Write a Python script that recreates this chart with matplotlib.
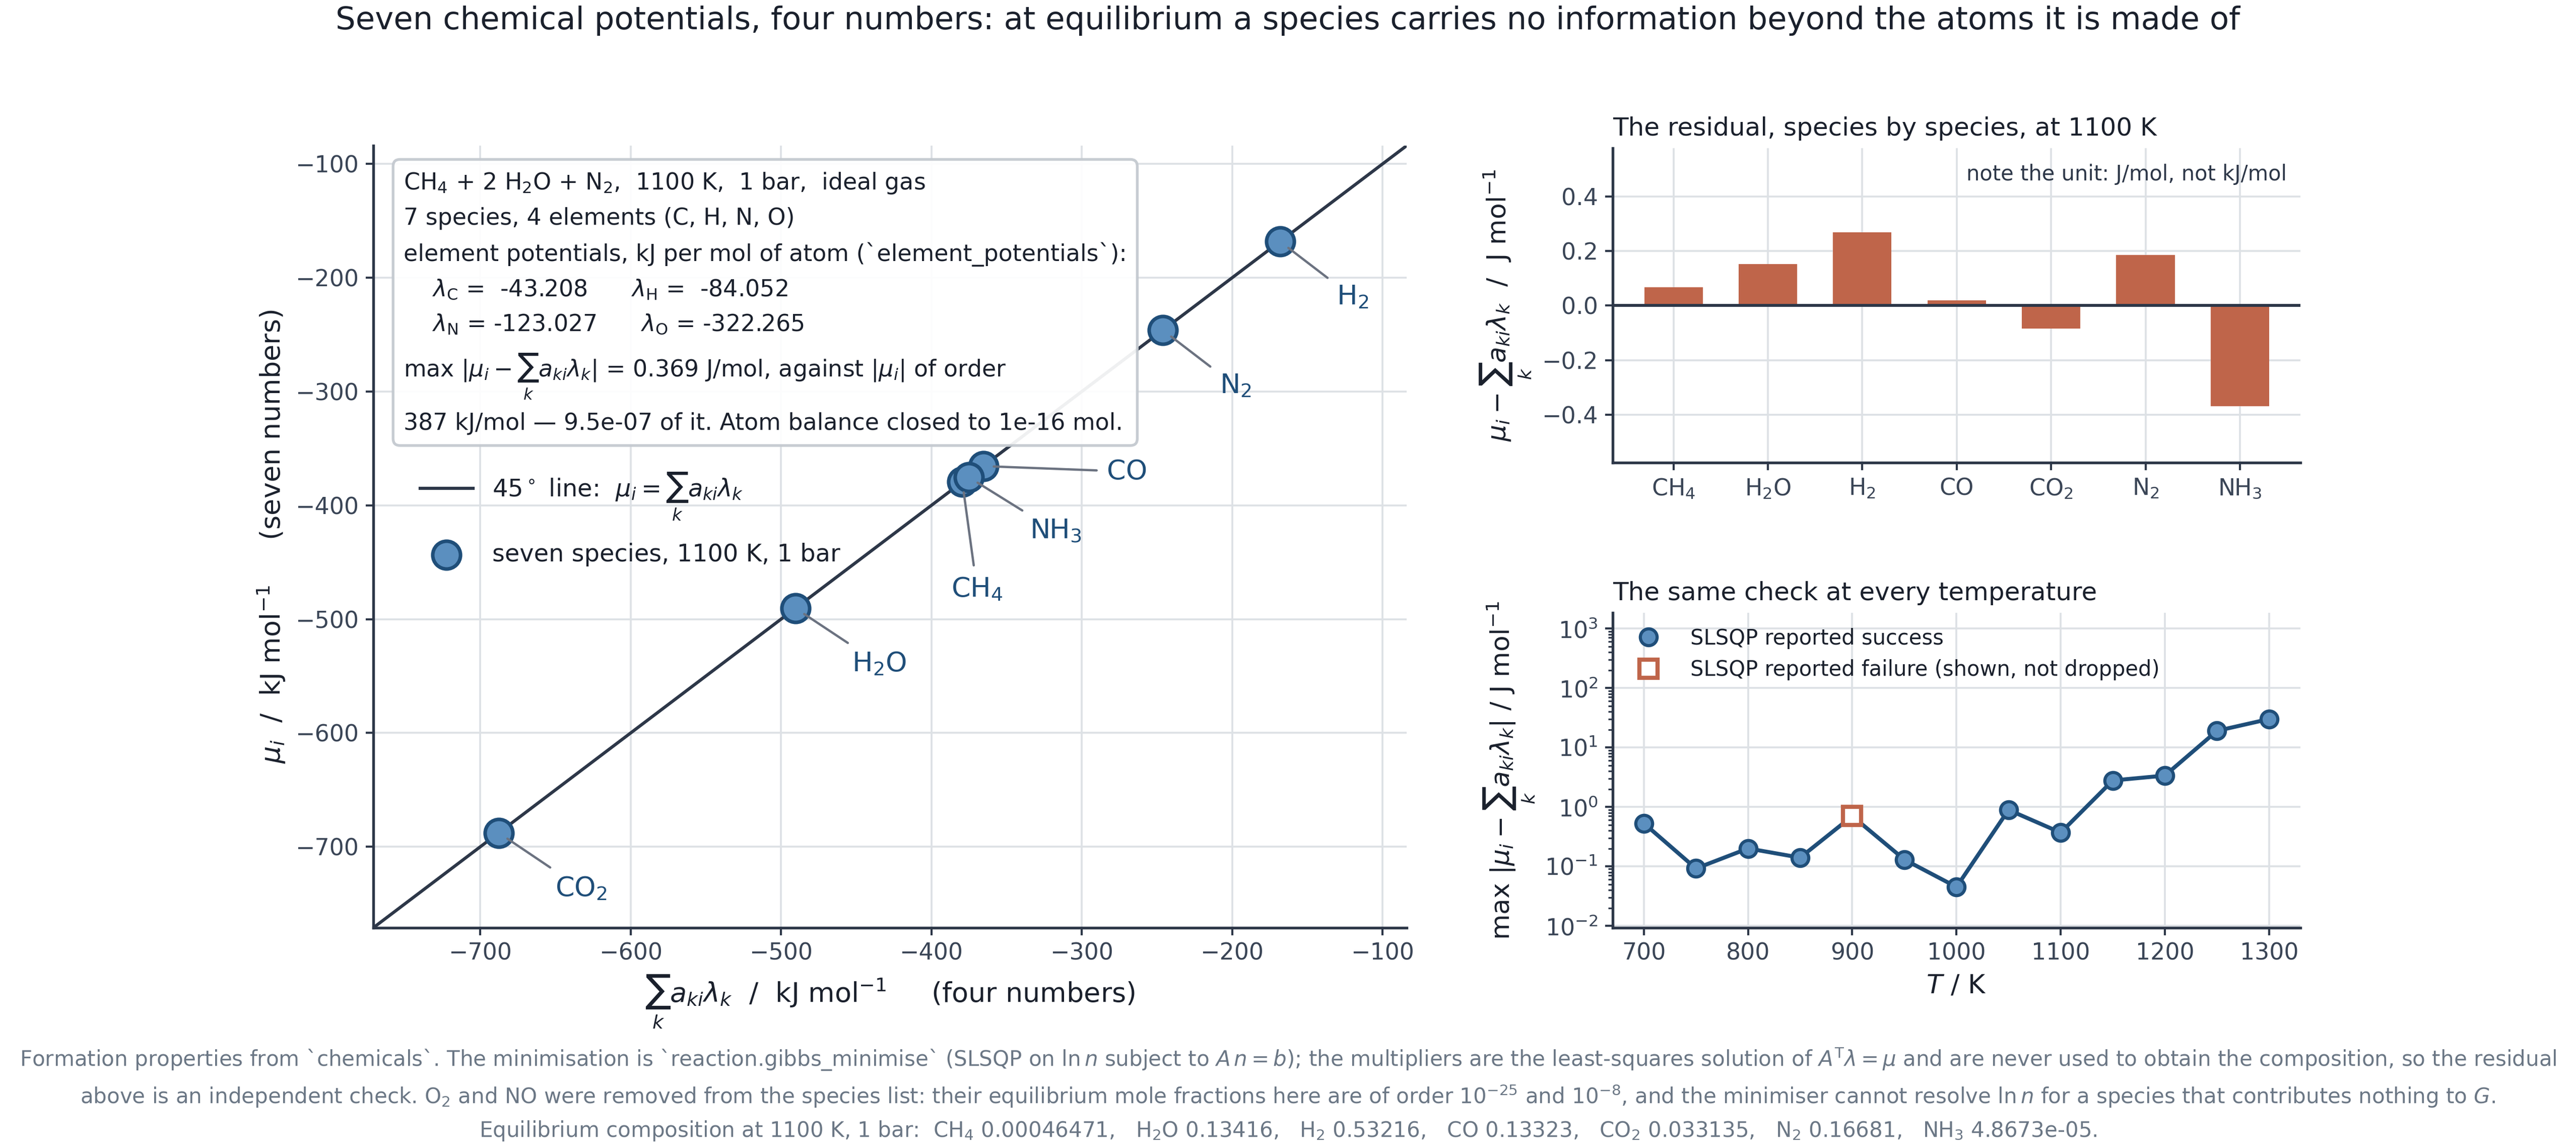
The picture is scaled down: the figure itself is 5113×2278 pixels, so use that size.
import numpy as np
import matplotlib
matplotlib.use("Agg")
import matplotlib.pyplot as plt

# ---------------- data ----------------
species = ["CH4", "H2O", "H2", "CO", "CO2", "N2", "NH3"]
species_tex = ["CH$_4$", "H$_2$O", "H$_2$", "CO", "CO$_2$", "N$_2$", "NH$_3$"]
elements = ["C", "H", "N", "O"]
element_potentials = [-43.208, -84.052, -123.027, -322.265]   # kJ/mol of atom
atom_C = [1, 0, 0, 1, 1, 0, 0]
atom_H = [4, 2, 2, 0, 0, 0, 3]
atom_N = [0, 0, 0, 0, 0, 2, 1]
atom_O = [0, 1, 0, 1, 2, 0, 0]
residual_J = [0.068, 0.153, 0.268, 0.019, -0.084, 0.186, -0.369]  # J/mol

temperatures = [700, 750, 800, 850, 900, 950, 1000, 1050, 1100, 1150, 1200, 1250, 1300]
max_residual = [0.53, 0.092, 0.20, 0.14, 0.70, 0.13, 0.045, 0.89, 0.369, 2.78, 3.36, 19.0, 30.0]
slsqp_success = [True, True, True, True, False, True, True, True, True, True, True, True, True]

# ---------------- derived ----------------
A = np.array([atom_C, atom_H, atom_N, atom_O], dtype=float)
lam = np.array(element_potentials)
sum_al = A.T @ lam
mu = sum_al + np.array(residual_J) / 1000.0

# ---------------- style ----------------
DARK = "#2d3748"
TXT = "#1a202c"
TICK = "#3a4556"
GRID = "#dde1e5"
BLUE_F = "#5b8fbf"
BLUE_E = "#1f4e79"
RUST = "#bf654a"
GRAYLINE = "#6b7280"
FOOT = "#6b7785"

plt.rcParams.update({
    "font.family": ["DejaVu Sans"],
    "axes.edgecolor": DARK,
    "axes.linewidth": 1.3,
    "xtick.color": DARK,
    "ytick.color": DARK,
    "xtick.labelcolor": TICK,
    "ytick.labelcolor": TICK,
    "xtick.labelsize": 11,
    "ytick.labelsize": 11,
    "xtick.major.size": 3.5,
    "ytick.major.size": 3.5,
    "xtick.major.width": 1.0,
    "ytick.major.width": 1.0,
    "axes.labelcolor": TXT,
})

fig = plt.figure(figsize=(5113 / 300, 2278 / 300), dpi=300)

ax1 = fig.add_axes([0.145, 0.192, 0.401, 0.681])
ax2 = fig.add_axes([0.626, 0.597, 0.267, 0.274])
ax3 = fig.add_axes([0.626, 0.192, 0.267, 0.274])

for ax in (ax1, ax2, ax3):
    ax.spines["top"].set_visible(False)
    ax.spines["right"].set_visible(False)
    ax.grid(True, which="major", color=GRID, lw=0.9, zorder=0)
    ax.set_axisbelow(True)

# ---------------- left panel ----------------
lo, hi = -771, -84
ax1.set_xlim(lo, hi)
ax1.set_ylim(lo, hi)
ax1.axline((lo, lo), slope=1, color=DARK, lw=1.5, zorder=2,
           label=r"45$^\circ$ line:  $\mu_i = \sum_k a_{ki}\lambda_k$")
ax1.scatter(sum_al, mu, s=175, facecolor=BLUE_F, edgecolor=BLUE_E, linewidth=1.7,
            zorder=4, label="seven species, 1100 K, 1 bar")
ax1.set_xticks([-700, -600, -500, -400, -300, -200, -100])
ax1.set_yticks([-700, -600, -500, -400, -300, -200, -100])

label_offsets = {
    "CH4": (7, -51, "center"),
    "H2O": (27, -26.5, "left"),
    "H2": (27, -26.5, "left"),
    "CO": (59, -2.6, "left"),
    "CO2": (27, -26.5, "left"),
    "N2": (27, -26.5, "left"),
    "NH3": (29, -25.7, "left"),
}
for sp, lab, x, y in zip(species, species_tex, sum_al, mu):
    dx, dy, ha = label_offsets[sp]
    ax1.annotate(lab, xy=(x, y), xytext=(dx, dy), textcoords="offset points",
                 ha=ha, va="center", fontsize=13, color=BLUE_E, zorder=5,
                 arrowprops=dict(arrowstyle="-", color=GRAYLINE, lw=1.1,
                                 shrinkA=3, shrinkB=5))

ax1.set_xlabel(r"$\sum_k a_{ki}\lambda_k$  /  kJ mol$^{-1}$     (four numbers)", fontsize=13)
ax1.set_ylabel(r"$\mu_i$  /  kJ mol$^{-1}$     (seven numbers)", fontsize=13)

box_text = (
    "CH$_4$ + 2 H$_2$O + N$_2$,  1100 K,  1 bar,  ideal gas\n"
    "7 species, 4 elements (C, H, N, O)\n"
    "element potentials, kJ per mol of atom (`element_potentials`):\n"
    f"    $\\lambda_\\mathrm{{C}}$ =  {element_potentials[0]:.3f}      "
    f"$\\lambda_\\mathrm{{H}}$ =  {element_potentials[1]:.3f}\n"
    f"    $\\lambda_\\mathrm{{N}}$ = {element_potentials[2]:.3f}      "
    f"$\\lambda_\\mathrm{{O}}$ = {element_potentials[3]:.3f}\n"
    r"max $|\mu_i - \sum_k a_{ki}\lambda_k|$ = 0.369 J/mol, against $|\mu_i|$ of order" "\n"
    "387 kJ/mol \u2014 9.5e-07 of it. Atom balance closed to 1e-16 mol."
)
ax1.text(0.029, 0.968, box_text, transform=ax1.transAxes, ha="left", va="top",
         fontsize=11, color=TXT, linespacing=1.65, zorder=6,
         bbox=dict(boxstyle="round,pad=0.45,rounding_size=0.3", facecolor="white",
                   edgecolor="#c3c9cf", lw=1.3, alpha=0.93))

leg1 = ax1.legend(loc="upper left", bbox_to_anchor=(0.024, 0.612), frameon=False,
                  fontsize=11.5, labelspacing=0.85, handlelength=2.2, labelcolor=TXT)

# ---------------- top right ----------------
xpos = np.arange(len(species))
ax2.bar(xpos, residual_J, width=0.62, color=RUST, zorder=3)
ax2.axhline(0, color=DARK, lw=1.4, zorder=4)
ax2.set_xticks(xpos)
ax2.set_xticklabels(species_tex, fontsize=11)
ax2.set_xlim(-0.645, 6.64)
ax2.set_ylim(-0.575, 0.577)
ax2.set_yticks([-0.4, -0.2, 0.0, 0.2, 0.4])
ax2.set_title("The residual, species by species, at 1100 K", loc="left",
              fontsize=12, color=TXT, pad=6)
ax2.set_ylabel(r"$\mu_i - \sum_k a_{ki}\lambda_k$  /  J mol$^{-1}$", fontsize=12.5)
ax2.text(0.98, 0.95, "note the unit: J/mol, not kJ/mol", transform=ax2.transAxes,
         ha="right", va="top", fontsize=10, color=DARK)

# ---------------- bottom right ----------------
temps = np.array(temperatures)
resid = np.array(max_residual)
ok = np.array(slsqp_success)
ax3.plot(temps, resid, color=BLUE_E, lw=1.9, zorder=3)
ax3.plot(temps[ok], resid[ok], ls="none", marker="o", ms=8, mfc=BLUE_F, mec=BLUE_E,
         mew=1.5, zorder=4, label="SLSQP reported success")
ax3.plot(temps[~ok], resid[~ok], ls="none", marker="s", ms=8.5, mfc="white", mec=RUST,
         mew=2.0, zorder=5, label="SLSQP reported failure (shown, not dropped)")
ax3.set_yscale("log")
ax3.set_ylim(10 ** -2.03, 10 ** 3.26)
ax3.set_xlim(670, 1330)
ax3.set_xticks(range(700, 1301, 100))
ax3.set_yticks([1e-2, 1e-1, 1e0, 1e1, 1e2, 1e3])
ax3.tick_params(which="minor", length=2.2, width=0.8, color=DARK)
ax3.set_title("The same check at every temperature", loc="left",
              fontsize=12, color=TXT, pad=6)
ax3.set_xlabel(r"$T$ / K", fontsize=12.5)
ax3.set_ylabel(r"max $|\mu_i - \sum_k a_{ki}\lambda_k|$ / J mol$^{-1}$", fontsize=12.5)
ax3.legend(loc="upper left", frameon=False, fontsize=10, labelcolor=TXT,
           handletextpad=1.0, borderaxespad=0.3)

# ---------------- titles & footer ----------------
fig.text(0.5, 0.982, "Seven chemical potentials, four numbers: at equilibrium a species "
         "carries no information beyond the atoms it is made of",
         ha="center", va="center", fontsize=15, color=TXT)

foot1 = ("Formation properties from `chemicals`. The minimisation is `reaction.gibbs_minimise` "
         r"(SLSQP on $\ln n$ subject to $A\,n = b$); the multipliers are the least-squares solution of "
         r"$A^\mathrm{T}\lambda = \mu$ and are never used to obtain the composition, so the residual")
foot2 = ("above is an independent check. O$_2$ and NO were removed from the species list: their "
         r"equilibrium mole fractions here are of order $10^{-25}$ and $10^{-8}$, and the minimiser "
         r"cannot resolve $\ln n$ for a species that contributes nothing to $G$.")
foot3 = ("Equilibrium composition at 1100 K, 1 bar:  CH$_4$ 0.00046471,   H$_2$O 0.13416,   "
         "H$_2$ 0.53216,   CO 0.13323,   CO$_2$ 0.033135,   N$_2$ 0.16681,   NH$_3$ 4.8673e-05.")
for yy, s in zip([0.077, 0.045, 0.015], [foot1, foot2, foot3]):
    fig.text(0.5, yy, s, ha="center", va="center", fontsize=10.1, color=FOOT)

fig.savefig("out.png", dpi=300)
